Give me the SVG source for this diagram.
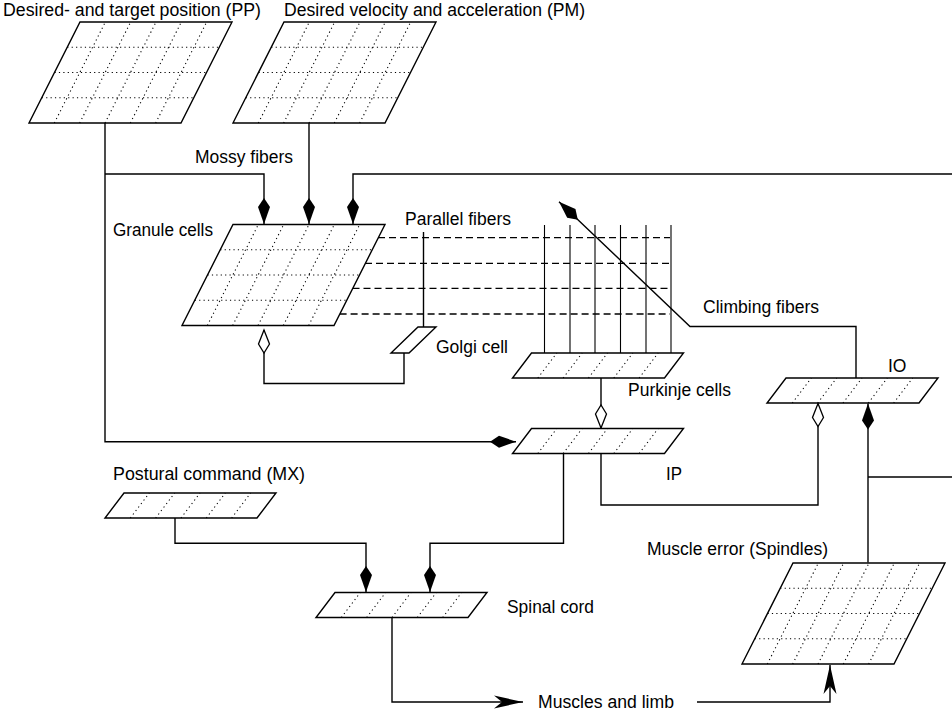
<svg xmlns="http://www.w3.org/2000/svg" width="952" height="717" viewBox="0 0 952 717">
<style>
.out{fill:#fff;stroke:#000;stroke-width:1.4}
.dot{fill:none;stroke:#000;stroke-width:1.1;stroke-dasharray:1.2 3.2}
.ln{fill:none;stroke:#000;stroke-width:1.4}
.fib{fill:none;stroke:#000;stroke-width:1.1}
.pf{fill:none;stroke:#000;stroke-width:1.3;stroke-dasharray:7 4}
text{font-family:"Liberation Sans",Arial,Helvetica,sans-serif;font-size:17.5px;fill:#000}
</style>
<defs>
<marker id="kf" markerUnits="userSpaceOnUse" viewBox="-28 -8 30 16" refX="0" refY="0" markerWidth="30" markerHeight="16" orient="auto"><path d="M0,0 L-17,-6 L-26,0 L-17,6 Z" fill="#000"/></marker>
<marker id="ko" markerUnits="userSpaceOnUse" viewBox="-28 -8 30 16" refX="0" refY="0" markerWidth="30" markerHeight="16" orient="auto"><path d="M0,0 L-14,-5.5 L-23,0 L-14,5.5 Z" fill="#fff" stroke="#000" stroke-width="1.3"/></marker>
<marker id="ar" markerUnits="userSpaceOnUse" viewBox="-31 -8 33 16" refX="0" refY="0" markerWidth="33" markerHeight="16" orient="auto"><path d="M0,0 L-29,-6.5 L-21,0 L-29,6.5 Z" fill="#000"/></marker>
<g id="big">
<path class="out" d="M51,0 H203 L152,101 H0 Z"/>
<path class="dot" d="M38.25,25.25 H190.25 M25.5,50.5 H177.5 M12.75,75.75 H164.75 M25.33,101 L76.33,0 M50.67,101 L101.67,0 M76,101 L127,0 M101.33,101 L152.33,0 M126.67,101 L177.67,0"/>
</g>
<g id="small">
<path class="out" d="M19,0 H171 L152,25 H0 Z"/>
<path class="dot" d="M25.33,25 L44.33,0 M50.67,25 L69.67,0 M76,25 L95,0 M101.33,25 L120.33,0 M126.67,25 L145.67,0"/>
</g>
</defs>
<rect width="952" height="717" fill="#fff"/>

<g id="connectors">
<path class="ln" d="M105,123 V441.7 H516" marker-end="url(#kf)"/>
<path class="ln" d="M105,174 H264 V224" marker-end="url(#kf)"/>
<path class="ln" d="M309,123 V224" marker-end="url(#kf)"/>
<path class="ln" d="M952,174 H353 V224" marker-end="url(#kf)"/>
<path class="ln" d="M404,353 V383.5 H264 V330" marker-end="url(#ko)"/>
<path class="ln" d="M423.5,232 V327"/>
<path class="pf" d="M378,237.7 H670 M365,263.3 H670 M352.5,288.3 H670 M339.6,314 H670"/>
<path class="fib" d="M544.5,225 V353 M570,225 V353 M595,225 V353 M620.5,225 V353 M646,225 V353 M671,225 V353"/>
<path class="ln" d="M601,378 V428" marker-end="url(#ko)"/>
<path class="ln" d="M856,378 V326.5 H690 L559,201.7" marker-end="url(#kf)"/>
<path class="ln" d="M563.5,453.5 V543.3 H430 V592" marker-end="url(#kf)"/>
<path class="ln" d="M601,453.5 V505 H818 V403.5" marker-end="url(#ko)"/>
<path class="ln" d="M175,518 V543.3 H366 V592" marker-end="url(#kf)"/>
<path class="ln" d="M392,618 V702 H523" marker-end="url(#ar)"/>
<path class="ln" d="M697,702 H830 V665" marker-end="url(#ar)"/>
<path class="ln" d="M868,562.5 V403.5" marker-end="url(#kf)"/>
<path class="ln" d="M868,477 H952"/>
</g>

<g id="pp"><use href="#big" transform="translate(29,22)"/><text x="3" y="15.5" textLength="258" lengthAdjust="spacingAndGlyphs">Desired- and target position (PP)</text></g>
<g id="pm"><use href="#big" transform="translate(233,22)"/><text x="284" y="15.5" textLength="301" lengthAdjust="spacingAndGlyphs">Desired velocity and acceleration (PM)</text></g>
<g id="mossy-label"><text x="195" y="162.5" textLength="98" lengthAdjust="spacingAndGlyphs">Mossy fibers</text></g>
<g id="granule"><use href="#big" transform="translate(182,224.5)"/><text x="113" y="235.5" textLength="100" lengthAdjust="spacingAndGlyphs">Granule cells</text></g>
<g id="parallel-label"><text x="405" y="225" textLength="106" lengthAdjust="spacingAndGlyphs">Parallel fibers</text></g>
<g id="golgi"><path class="out" d="M418,327 H436 L409,353 H391 Z"/><text x="436" y="352.7" textLength="72" lengthAdjust="spacingAndGlyphs">Golgi cell</text></g>
<g id="climbing-label"><text x="703" y="313.3" textLength="116" lengthAdjust="spacingAndGlyphs">Climbing fibers</text></g>
<g id="purkinje"><use href="#small" transform="translate(512.5,353)"/><text x="628" y="396" textLength="103" lengthAdjust="spacingAndGlyphs">Purkinje cells</text></g>
<g id="io"><use href="#small" transform="translate(767,378)"/><text x="888" y="371.7" textLength="18.5" lengthAdjust="spacingAndGlyphs">IO</text></g>
<g id="ip"><use href="#small" transform="translate(512.5,428.5)"/><text x="666" y="480" textLength="16" lengthAdjust="spacingAndGlyphs">IP</text></g>
<g id="mx"><use href="#small" transform="translate(105,493)"/><text x="113" y="480" textLength="192" lengthAdjust="spacingAndGlyphs">Postural command (MX)</text></g>
<g id="spinal"><use href="#small" transform="translate(316,592.5)"/><text x="507" y="612.7" textLength="87" lengthAdjust="spacingAndGlyphs">Spinal cord</text></g>
<g id="muscles"><text x="538" y="708.3" textLength="136" lengthAdjust="spacingAndGlyphs">Muscles and limb</text></g>
<g id="spindles"><use href="#big" transform="translate(742,563)"/><text x="647" y="555" textLength="181" lengthAdjust="spacingAndGlyphs">Muscle error (Spindles)</text></g>
</svg>
